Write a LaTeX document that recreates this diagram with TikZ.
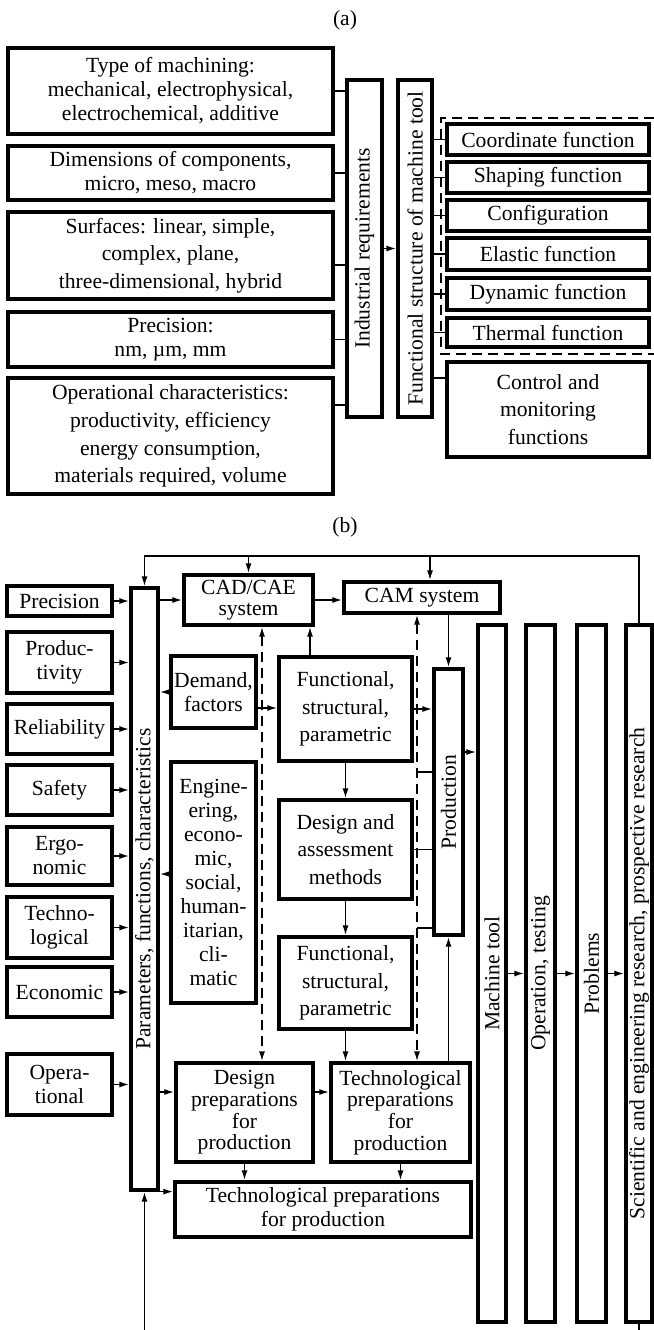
\documentclass[tikz,border=0pt]{standalone}
\usepackage{fontspec}
\setmainfont{Liberation Serif}
\usetikzlibrary{arrows.meta}

\begin{document}
\begin{tikzpicture}[x=0.5pt, y=-0.5pt,
  font=\fontsize{10.8}{12}\selectfont,
  blk/.style={draw, line width=1.6pt, inner sep=0pt, align=center},
  bar/.style={blk},
  cnr/.style n args={4}{minimum width={(#3-#1)*0.5pt}, minimum height={(#4-#2)*0.5pt}, at={({(#1+#3)/2},{(#2+#4)/2})}},
  roomy/.style={font=\fontsize{10.8}{13.8}\selectfont},
  tight/.style={font=\fontsize{10.8}{10.8}\selectfont},
  ln/.style={line width=0.85pt},
  arr/.style={ln, -{Latex[length=5pt,width=3pt]}},
  darr/.style={ln, dash pattern=on 5pt off 3pt, {Latex[length=5pt,width=3pt]}-{Latex[length=5pt,width=3pt]}}]
  \useasboundingbox (0,0) rectangle (654,1330);

  % (a)
  \node (lblA) at (345,20) {(a)};
  \node[blk, cnr={8}{48}{333}{134}] (mach) {Type of machining:\\mechanical, electrophysical,\\electrochemical, additive};
  \node[blk, cnr={8}{146}{333}{200}] (dims) {Dimensions of components,\\micro, meso, macro};
  \node[blk, roomy, cnr={8}{212}{333}{299}] (surf) {Surfaces: linear, simple,\\complex, plane,\\three-dimensional, hybrid};
  \node[blk, cnr={8}{312}{333}{367}] (prec) {Precision:\\nm, µm, mm};
  \node[blk, roomy, cnr={8}{378}{333}{494}] (oper) {Operational characteristics:\\productivity, efficiency\\energy consumption,\\materials required, volume};
  \node[bar, cnr={347}{80}{382}{417}, label={[rotate=90]center:Industrial requirements}] (ind) {};
  \node[bar, cnr={398}{80}{432}{417}, label={[rotate=90]center:Functional structure of machine tool}] (fun) {};
  \node[blk, cnr={447}{124}{649}{155}] (coord) {Coordinate function};
  \node[blk, cnr={447}{162}{649}{193}] (shap) {Shaping function};
  \node[blk, cnr={447}{200}{649}{231}] (conf) {Configuration};
  \node[blk, cnr={447}{238}{649}{270}] (elas) {Elastic function};
  \node[blk, cnr={447}{278}{649}{310}] (dyn) {Dynamic function};
  \node[blk, cnr={447}{318}{649}{347}] (therm) {Thermal function};
  \node[blk, roomy, cnr={447}{362}{649}{457}] (ctrl) {Control and\\monitoring\\functions};

  \draw[line width=1.1pt, dash pattern=on 5pt off 3pt] (654,118) -| (441,354) -- (654,354);

  \draw[ln] (mach.east) -- (mach.east -| ind.west);
  \draw[ln] (dims.east) -- (dims.east -| ind.west);
  \draw[ln] (surf.east |- 0,265) -- (ind.west |- 0,265);
  \draw[ln] (prec.east) -- (prec.east -| ind.west);
  \draw[ln] (oper.east |- 0,405) -- (ind.west |- 0,405);
  \draw[arr] (ind.east) -- (fun.west);
  \draw[ln] (fun.east |- coord.west) -- (coord.west);
  \draw[ln] (fun.east |- shap.west) -- (shap.west);
  \draw[ln] (fun.east |- conf.west) -- (conf.west);
  \draw[ln] (fun.east |- elas.west) -- (elas.west);
  \draw[ln] (fun.east |- dyn.west) -- (dyn.west);
  \draw[ln] (fun.east |- therm.west) -- (therm.west);
  \draw[ln] (fun.east |- 0,378) -- (ctrl.west |- 0,378);

  % (b)
  \node (lblB) at (345,527) {(b)};
  \coordinate (top) at (0,556);
  \coordinate (dL) at (262,0);
  \coordinate (dR) at (417,0);
  \coordinate (camin) at (430,0);
  \coordinate (upin) at (310,0);
  \coordinate (bot) at (144.5,1330);

  \node[blk, cnr={7}{586}{112}{616}] (pprec) {Precision};
  \node[blk, cnr={7}{632}{112}{693}] (pprod) {Produc-\\tivity};
  \node[blk, cnr={7}{704}{112}{754}] (prel) {Reliability};
  \node[blk, cnr={7}{765}{112}{815}] (psafe) {Safety};
  \node[blk, cnr={7}{827}{112}{885}] (pergo) {Ergo-\\nomic};
  \node[blk, cnr={7}{897}{112}{958}] (ptech) {Techno-\\logical};
  \node[blk, cnr={7}{967}{112}{1017}] (pecon) {Economic};
  \node[blk, cnr={7}{1054}{112}{1115}] (poper) {Opera-\\tional};
  \node[bar, cnr={131}{588}{158}{1190}, label={[rotate=90]center:Parameters, functions, characteristics}] (par) {};

  \node[blk, tight, cnr={184}{575}{313}{625}] (cad) {CAD/CAE\\system};
  \node[blk, cnr={344}{582}{500}{613}] (cam) {CAM system};
  \node[blk, cnr={171}{656}{256}{728}] (dem) {Demand,\\factors};
  \node[blk, cnr={171}{762}{256}{1003}] (eng) {Engine-\\ering,\\econo-\\mic,\\social,\\human-\\itarian,\\cli-\\matic};
  \node[blk, roomy, cnr={279}{657}{412}{761}] (fsp1) {Functional,\\structural,\\parametric};
  \node[blk, roomy, cnr={279}{800}{412}{899}] (dam) {Design and\\assessment\\methods};
  \node[blk, roomy, cnr={279}{937}{412}{1029}] (fsp2) {Functional,\\structural,\\parametric};
  \node[blk, tight, cnr={176}{1063}{313}{1162}] (dpp) {Design\\preparations\\for\\production};
  \node[blk, tight, cnr={331}{1063}{470}{1162}] (tpp) {Technological\\preparations\\for\\production};
  \node[blk, cnr={175}{1182}{471}{1237}] (tppb) {Technological preparations\\for production};

  \node[bar, cnr={434}{669}{463}{935}, label={[rotate=90]center:Production}] (pro) {};
  \node[bar, cnr={478}{625}{506}{1322}, label={[rotate=90]center:Machine tool}] (mt) {};
  \node[bar, cnr={526}{625}{555}{1322}, label={[rotate=90]center:Operation, testing}] (ot) {};
  \node[bar, cnr={577}{625}{606}{1322}, label={[rotate=90]center:Problems}] (pb) {};
  \node[bar, cnr={626}{625}{652}{1322}, label={[rotate=90]center:Scientific and engineering research, prospective research}] (sci) {};

  % feedback loop
  \draw[arr] (sci.north) |- (par.north |- top) -- (par.north);
  \draw[arr] (cad.north |- top) -- (cad.north);
  \draw[arr] (camin |- top) -- (camin |- cam.north);
  \draw[arr] (bot) -- (par.south);
  \draw[ln] (sci.south) -- (sci.south |- bot);

  % inputs
  \draw[arr] (pprec.east) -- (pprec.east -| par.west);
  \draw[arr] (pprod.east) -- (pprod.east -| par.west);
  \draw[arr] (prel.east) -- (prel.east -| par.west);
  \draw[arr] (psafe.east) -- (psafe.east -| par.west);
  \draw[arr] (pergo.east) -- (pergo.east -| par.west);
  \draw[arr] (ptech.east) -- (ptech.east -| par.west);
  \draw[arr] (pecon.east) -- (pecon.east -| par.west);
  \draw[arr] (poper.east) -- (poper.east -| par.west);

  \draw[arr] (par.east |- cad.west) -- (cad.west);
  \draw[arr] (cad.east) -- (cad.east -| cam.west);
  \draw[arr] (dem.west) -- (dem.west -| par.east);
  \draw[arr] (eng.west |- 0,874) -- (par.east |- 0,874);
  \draw[arr] (dem.east |- 0,708) -- (fsp1.west |- 0,708);
  \draw[arr] (upin |- fsp1.north) -- (upin |- cad.south);
  \draw[darr] (dL |- cad.south) -- (dL |- dpp.north);
  \draw[darr] (dR |- cam.south) -- (dR |- tpp.north);

  \draw[arr] (fsp1.south) -- (dam.north);
  \draw[arr] (dam.south) -- (fsp2.north);
  \draw[arr] (fsp2.south) -- (fsp2.south |- tpp.north);
  \draw[arr] (par.east |- 0,1092) -- (dpp.west |- 0,1092);
  \draw[arr] (dpp.east |- 0,1092) -- (tpp.west |- 0,1092);
  \draw[arr] (par.south east) -- (par.south east -| tppb.west);
  \draw[arr] (dpp.south) -- (dpp.south |- tppb.north);
  \draw[arr] (tpp.south) -- (tpp.south |- tppb.north);

  \draw[arr] (cam.south -| pro.north) -- (pro.north);
  \draw[arr] (pro.south |- tpp.north) -- (pro.south);
  \draw[arr] (fsp1.east) -- (fsp1.east -| pro.west);
  \draw[ln] (dam.east) -- (dam.east -| pro.west);
  \draw[ln] (dR |- 0,772) -- (pro.west |- 0,772);
  \draw[ln] (dR |- 0,928) -- (pro.west |- 0,928);

  \draw[arr] (pro.east |- 0,752) -- (mt.west |- 0,752);
  \draw[arr] (mt.east) -- (ot.west);
  \draw[arr] (ot.east) -- (pb.west);
  \draw[arr] (pb.east) -- (sci.west);
\end{tikzpicture}
\end{document}
